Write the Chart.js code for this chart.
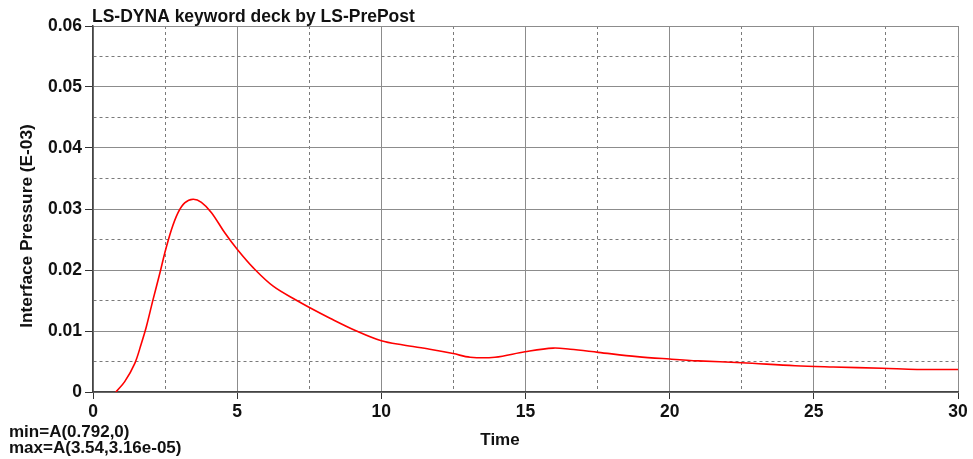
<!DOCTYPE html>
<html>
<head>
<meta charset="utf-8">
<title>LS-DYNA keyword deck by LS-PrePost</title>
<script src="https://cdn.jsdelivr.net/npm/chart.js@4.4.1/dist/chart.umd.min.js"></script>
<style>
  body { margin: 0; background: #fff; }
  canvas { display: block; }
</style>
</head>
<body>
<canvas id="pressure" width="973" height="459"></canvas>
<script>
// curve (time, interface pressure E-03)
const times = [0.792, 1.10, 1.45, 1.68, 1.85, 2.08, 2.32, 2.49, 2.72, 2.95, 3.18, 3.47, 3.76, 4.11, 4.57, 5.0, 5.57, 6.26,
  7.07, 7.49, 8.22, 9.14, 10.0, 10.76, 11.68, 12.49, 13.08, 13.94, 14.98, 15.96, 16.55, 17.52, 18.87, 20.0, 21.0, 22.5,
  24.35, 25.67, 27.37, 28.58, 30];
const pressure = [0, 0.0017, 0.0047, 0.0080, 0.0107, 0.0151, 0.0195, 0.0228, 0.0266, 0.0294, 0.0310, 0.0316, 0.0311, 0.0294, 0.0261, 0.0234, 0.0203, 0.0173,
  0.0150, 0.0139, 0.0121, 0.0100, 0.0084, 0.0077, 0.0070, 0.0063, 0.0057, 0.0057, 0.0066, 0.0072, 0.0070, 0.0065, 0.0058, 0.0054, 0.0051, 0.0048,
  0.0043, 0.0041, 0.0039, 0.0037, 0.0037];

const xTickLabels = ['0', '5', '10', '15', '20', '25', '30'];
const yTickLabels = ['0', '0.01', '0.02', '0.03', '0.04', '0.05', '0.06'];

const chartTitle = 'LS-DYNA keyword deck by LS-PrePost';
const xTitle = 'Time';
const yTitle = 'Interface Pressure (E-03)';
const minNote = 'min=A(0.792,0)';
const maxNote = 'max=A(3.54,3.16e-05)';

const FONT = '"Liberation Sans", Arial, sans-serif';

// minor ticks sit halfway between labelled ones
function isMajor(value, step) {
  const r = value / step;
  return Math.abs(r - Math.round(r)) < 1e-6;
}

// title, axis titles and the min/max notes
const textPlugin = {
  id: 'texts',
  afterDraw(chart) {
    const ctx = chart.ctx;
    const area = chart.chartArea;
    ctx.save();
    ctx.fillStyle = '#111';
    ctx.textBaseline = 'alphabetic';

    ctx.font = 'bold 17.5px ' + FONT;
    ctx.textAlign = 'left';
    ctx.fillText(chartTitle, area.left - 1, 22);

    ctx.font = 'bold 17px ' + FONT;
    ctx.textAlign = 'center';
    ctx.fillText(xTitle, 500, 445);

    ctx.textAlign = 'left';
    ctx.fillText(minNote, 9, 437);
    ctx.fillText(maxNote, 9, 453);

    ctx.font = 'bold 17.3px ' + FONT;
    ctx.translate(32, 226);
    ctx.rotate(-Math.PI / 2);
    ctx.textAlign = 'center';
    ctx.fillText(yTitle, 0, 0);
    ctx.restore();
  }
};

const ctx = document.getElementById('pressure').getContext('2d');
new Chart(ctx, {
  type: 'line',
  data: {
    datasets: [{
      label: 'A',
      data: times.map((t, i) => ({ x: t, y: pressure[i] })),
      borderColor: '#ff0000',
      borderWidth: 1.6,
      pointRadius: 0,
      fill: false,
      tension: 0.35
    }]
  },
  options: {
    responsive: false,
    animation: false,
    layout: { padding: { top: 26, right: 15, bottom: 0, left: 0 } },
    plugins: {
      legend: { display: false },
      tooltip: { enabled: false }
    },
    scales: {
      x: {
        type: 'linear',
        min: 0,
        max: 30,
        afterFit(scale) { scale.height = 67; },
        ticks: {
          stepSize: 2.5,
          padding: 3,
          maxRotation: 0,
          autoSkip: false,
          color: '#111',
          font: { family: FONT, size: 17.5, weight: 'bold' },
          callback: v => isMajor(v, 5) ? xTickLabels[Math.round(v / 5)] : ''
        },
        grid: {
          color: c => isMajor(c.tick.value, 5) ? '#8c8c8c' : '#7a7a7a',
          lineWidth: 1,
          tickLength: 7,
          tickColor: c => isMajor(c.tick.value, 5) ? '#333' : 'rgba(0,0,0,0)'
        },
        border: {
          color: '#444',
          width: 1.5,
          dash: c => isMajor(c.tick.value, 5) ? [] : [3, 3]
        }
      },
      y: {
        min: 0,
        max: 0.06,
        afterFit(scale) { scale.width = 93; },
        ticks: {
          stepSize: 0.005,
          padding: 3,
          autoSkip: false,
          color: '#111',
          font: { family: FONT, size: 17.5, weight: 'bold' },
          callback: v => isMajor(v, 0.01) ? yTickLabels[Math.round(v / 0.01)] : ''
        },
        grid: {
          color: c => isMajor(c.tick.value, 0.01) ? '#8c8c8c' : '#7a7a7a',
          lineWidth: 1,
          tickLength: 8,
          tickColor: c => isMajor(c.tick.value, 0.01) ? '#333' : 'rgba(0,0,0,0)'
        },
        border: {
          color: '#444',
          width: 1.5,
          dash: c => isMajor(c.tick.value, 0.01) ? [] : [3, 3]
        }
      }
    }
  },
  plugins: [textPlugin]
});
</script>
</body>
</html>
